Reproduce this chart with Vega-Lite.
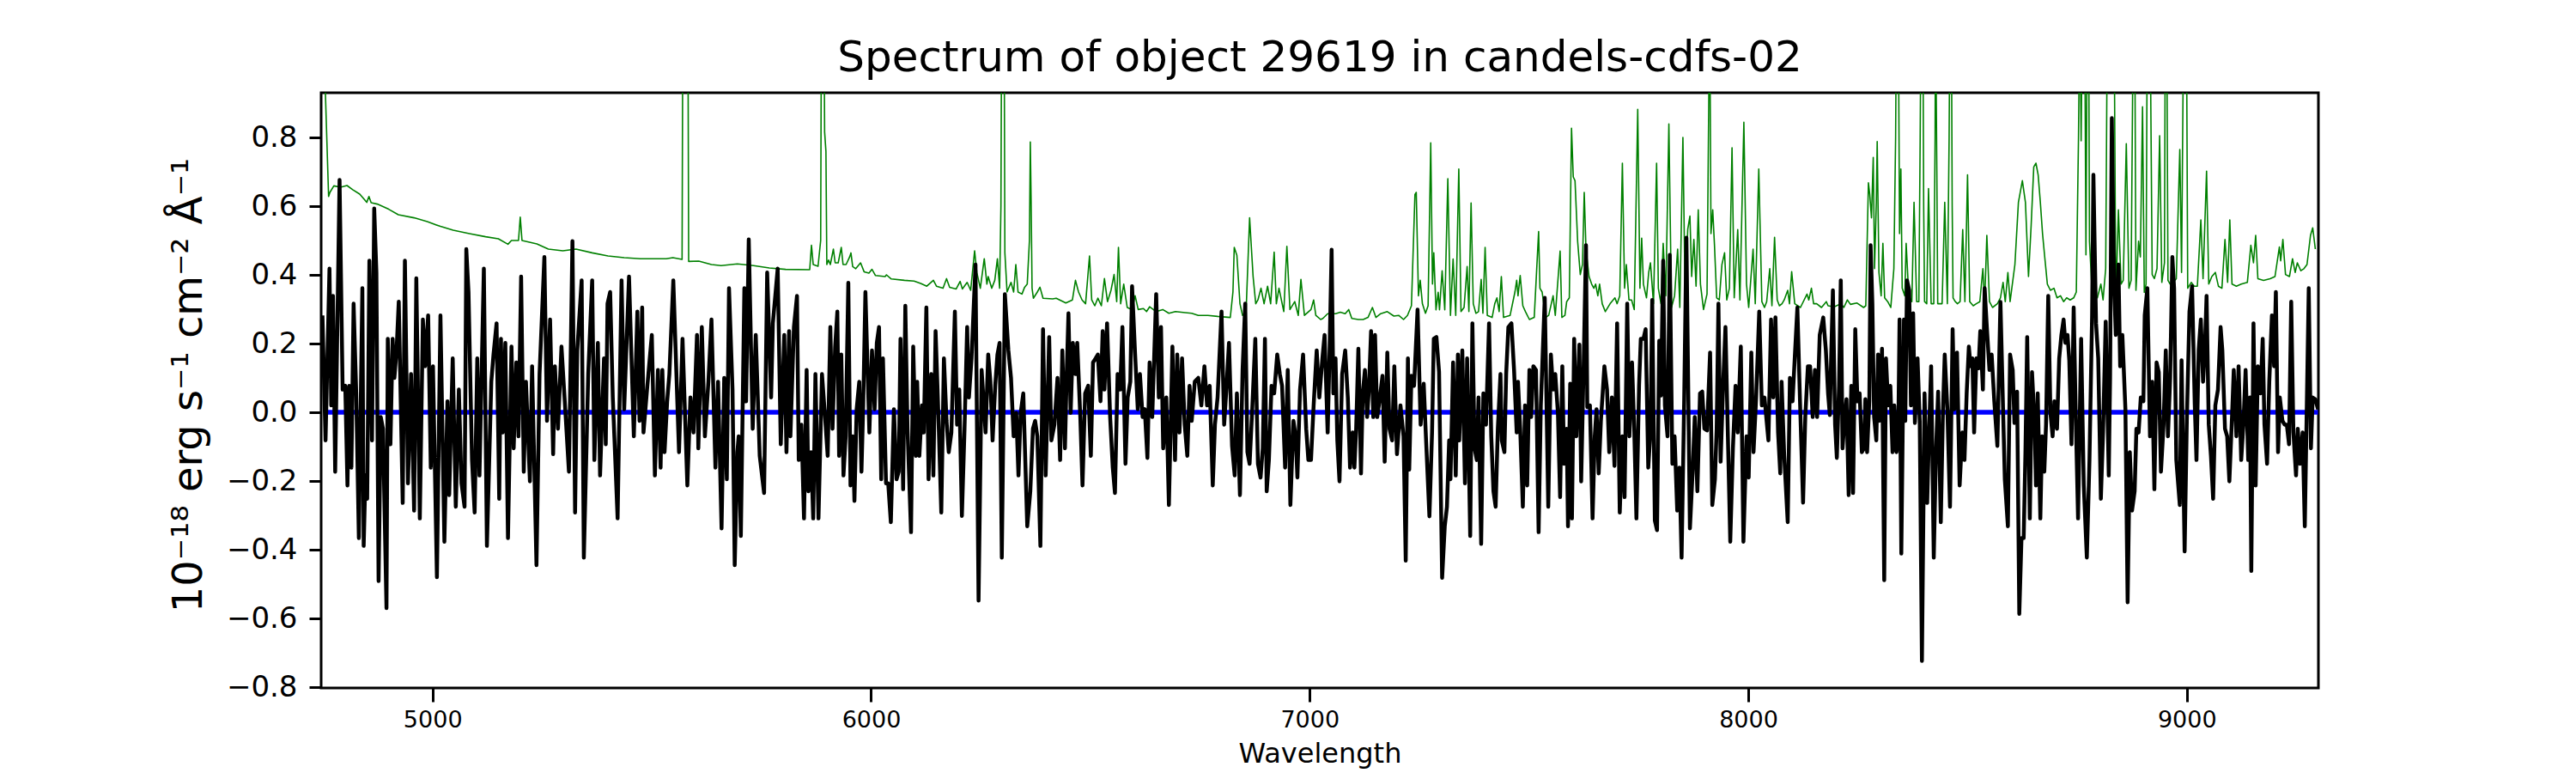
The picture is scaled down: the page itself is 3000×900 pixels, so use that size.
{
  "$schema": "https://vega.github.io/schema/vega-lite/v6.json",
  "description": "Spectrum of object 29619 in candels-cdfs-02",
  "width": 2326,
  "height": 693,
  "autosize": {"type": "none"},
  "padding": {"left": 374, "top": 108, "right": 300, "bottom": 99},
  "background": "white",
  "title": {
    "text": "Spectrum of object 29619 in candels-cdfs-02",
    "fontSize": 50,
    "fontWeight": "normal",
    "anchor": "middle",
    "offset": 15,
    "color": "black"
  },
  "datasets": {
    "flux": [
      {"w": 4749, "v": 0.282}, {"w": 4756, "v": -0.082}, {"w": 4765, "v": 0.418}, {"w": 4769, "v": 0.02}, {"w": 4773, "v": 0.339},
      {"w": 4778, "v": -0.173}, {"w": 4788, "v": 0.676}, {"w": 4795, "v": 0.066}, {"w": 4801, "v": 0.077}, {"w": 4806, "v": -0.213},
      {"w": 4810, "v": 0.077}, {"w": 4815, "v": -0.161}, {"w": 4820, "v": 0.316}, {"w": 4826, "v": 0.055}, {"w": 4832, "v": -0.366},
      {"w": 4840, "v": 0.361}, {"w": 4843, "v": -0.389}, {"w": 4847, "v": -0.184}, {"w": 4851, "v": -0.252}, {"w": 4856, "v": 0.441},
      {"w": 4862, "v": -0.082}, {"w": 4867, "v": 0.593}, {"w": 4872, "v": 0.407}, {"w": 4877, "v": -0.491}, {"w": 4882, "v": -0.014},
      {"w": 4887, "v": -0.048}, {"w": 4895, "v": -0.57}, {"w": 4898, "v": 0.214}, {"w": 4904, "v": -0.093}, {"w": 4909, "v": 0.214},
      {"w": 4913, "v": 0.1}, {"w": 4918, "v": 0.18}, {"w": 4923, "v": 0.322}, {"w": 4932, "v": -0.264}, {"w": 4937, "v": 0.441},
      {"w": 4944, "v": -0.207}, {"w": 4951, "v": 0.111}, {"w": 4958, "v": -0.286}, {"w": 4963, "v": 0.39}, {"w": 4971, "v": -0.309},
      {"w": 4978, "v": 0.27}, {"w": 4983, "v": 0.134}, {"w": 4990, "v": 0.282}, {"w": 4996, "v": -0.161}, {"w": 5001, "v": 0.134},
      {"w": 5010, "v": -0.48}, {"w": 5018, "v": 0.282}, {"w": 5027, "v": -0.377}, {"w": 5034, "v": 0.032}, {"w": 5038, "v": -0.241},
      {"w": 5046, "v": 0.157}, {"w": 5053, "v": -0.275}, {"w": 5060, "v": 0.066}, {"w": 5066, "v": -0.207}, {"w": 5073, "v": -0.275},
      {"w": 5077, "v": 0.475}, {"w": 5082, "v": 0.35}, {"w": 5090, "v": -0.139}, {"w": 5096, "v": -0.292}, {"w": 5102, "v": 0.157},
      {"w": 5107, "v": -0.184}, {"w": 5117, "v": 0.418}, {"w": 5124, "v": -0.389}, {"w": 5134, "v": 0.089}, {"w": 5139, "v": 0.168},
      {"w": 5146, "v": 0.259}, {"w": 5152, "v": -0.252}, {"w": 5156, "v": 0.214}, {"w": 5160, "v": -0.059}, {"w": 5166, "v": 0.202},
      {"w": 5172, "v": -0.366}, {"w": 5180, "v": 0.191}, {"w": 5185, "v": -0.105}, {"w": 5191, "v": 0.145}, {"w": 5196, "v": -0.07},
      {"w": 5202, "v": 0.395}, {"w": 5208, "v": -0.173}, {"w": 5213, "v": 0.089}, {"w": 5222, "v": -0.201}, {"w": 5227, "v": 0.134},
      {"w": 5237, "v": -0.445}, {"w": 5244, "v": 0.111}, {"w": 5255, "v": 0.452}, {"w": 5261, "v": -0.025}, {"w": 5268, "v": 0.27},
      {"w": 5275, "v": -0.122}, {"w": 5279, "v": 0.134}, {"w": 5286, "v": -0.048}, {"w": 5294, "v": 0.191}, {"w": 5301, "v": 0.043},
      {"w": 5311, "v": -0.173}, {"w": 5319, "v": 0.498}, {"w": 5325, "v": -0.292}, {"w": 5330, "v": 0.18}, {"w": 5340, "v": 0.384},
      {"w": 5345, "v": -0.423}, {"w": 5355, "v": 0.111}, {"w": 5364, "v": 0.384}, {"w": 5369, "v": -0.139}, {"w": 5377, "v": 0.202},
      {"w": 5382, "v": -0.184}, {"w": 5391, "v": 0.157}, {"w": 5395, "v": -0.093}, {"w": 5399, "v": 0.316}, {"w": 5405, "v": 0.35},
      {"w": 5411, "v": 0.043}, {"w": 5422, "v": -0.309}, {"w": 5431, "v": 0.384}, {"w": 5437, "v": 0.009}, {"w": 5448, "v": 0.395},
      {"w": 5459, "v": -0.07}, {"w": 5467, "v": 0.293}, {"w": 5472, "v": -0.025}, {"w": 5478, "v": 0.305}, {"w": 5481, "v": -0.059},
      {"w": 5490, "v": 0.08}, {"w": 5500, "v": 0.225}, {"w": 5507, "v": -0.184}, {"w": 5514, "v": 0.123}, {"w": 5520, "v": -0.161},
      {"w": 5524, "v": 0.123}, {"w": 5529, "v": -0.116}, {"w": 5535, "v": 0.032}, {"w": 5540, "v": 0.111}, {"w": 5549, "v": 0.384},
      {"w": 5562, "v": -0.116}, {"w": 5570, "v": 0.214}, {"w": 5581, "v": -0.213}, {"w": 5588, "v": 0.043}, {"w": 5595, "v": -0.059},
      {"w": 5603, "v": 0.225}, {"w": 5606, "v": -0.105}, {"w": 5614, "v": 0.248}, {"w": 5621, "v": -0.07}, {"w": 5629, "v": 0.089},
      {"w": 5636, "v": 0.27}, {"w": 5645, "v": -0.161}, {"w": 5651, "v": 0.089}, {"w": 5659, "v": -0.338}, {"w": 5665, "v": 0.1},
      {"w": 5671, "v": -0.195}, {"w": 5676, "v": 0.361}, {"w": 5684, "v": 0.066}, {"w": 5689, "v": -0.445}, {"w": 5695, "v": -0.116},
      {"w": 5698, "v": -0.07}, {"w": 5703, "v": -0.36}, {"w": 5711, "v": 0.361}, {"w": 5715, "v": 0.032}, {"w": 5721, "v": 0.503},
      {"w": 5730, "v": -0.048}, {"w": 5737, "v": 0.225}, {"w": 5746, "v": -0.127}, {"w": 5756, "v": -0.235}, {"w": 5763, "v": 0.407},
      {"w": 5772, "v": 0.043}, {"w": 5776, "v": 0.259}, {"w": 5787, "v": 0.418}, {"w": 5794, "v": -0.093}, {"w": 5802, "v": 0.225},
      {"w": 5807, "v": -0.116}, {"w": 5813, "v": 0.236}, {"w": 5816, "v": -0.07}, {"w": 5824, "v": 0.248}, {"w": 5831, "v": 0.339},
      {"w": 5835, "v": -0.139}, {"w": 5841, "v": -0.036}, {"w": 5847, "v": -0.309}, {"w": 5853, "v": 0.123}, {"w": 5857, "v": -0.23},
      {"w": 5863, "v": -0.116}, {"w": 5868, "v": -0.309}, {"w": 5873, "v": 0.111}, {"w": 5880, "v": -0.309}, {"w": 5888, "v": 0.111},
      {"w": 5895, "v": -0.014}, {"w": 5901, "v": -0.127}, {"w": 5907, "v": 0.248}, {"w": 5912, "v": -0.048}, {"w": 5918, "v": 0.191},
      {"w": 5923, "v": 0.293}, {"w": 5927, "v": -0.127}, {"w": 5932, "v": 0.168}, {"w": 5937, "v": -0.184}, {"w": 5942, "v": -0.07},
      {"w": 5948, "v": 0.377}, {"w": 5953, "v": -0.213}, {"w": 5958, "v": -0.07}, {"w": 5962, "v": -0.258}, {"w": 5967, "v": 0.009},
      {"w": 5973, "v": 0.089}, {"w": 5978, "v": -0.173}, {"w": 5982, "v": 0.02}, {"w": 5987, "v": 0.35}, {"w": 5993, "v": 0.077},
      {"w": 5996, "v": -0.059}, {"w": 6002, "v": 0.18}, {"w": 6008, "v": 0.009}, {"w": 6013, "v": 0.202}, {"w": 6018, "v": 0.248},
      {"w": 6023, "v": -0.195}, {"w": 6027, "v": 0.157}, {"w": 6034, "v": -0.207}, {"w": 6039, "v": -0.207}, {"w": 6045, "v": -0.32},
      {"w": 6052, "v": 0.009}, {"w": 6058, "v": -0.195}, {"w": 6063, "v": -0.173}, {"w": 6067, "v": 0.214}, {"w": 6073, "v": -0.224},
      {"w": 6078, "v": 0.31}, {"w": 6083, "v": -0.048}, {"w": 6091, "v": -0.349}, {"w": 6096, "v": 0.191}, {"w": 6102, "v": -0.127},
      {"w": 6105, "v": 0.089}, {"w": 6110, "v": -0.127}, {"w": 6116, "v": 0.02}, {"w": 6120, "v": -0.059}, {"w": 6126, "v": 0.305},
      {"w": 6131, "v": -0.195}, {"w": 6137, "v": 0.111}, {"w": 6142, "v": -0.184}, {"w": 6147, "v": 0.236}, {"w": 6153, "v": 0.009},
      {"w": 6160, "v": -0.292}, {"w": 6166, "v": 0.157}, {"w": 6172, "v": -0.025}, {"w": 6177, "v": -0.116}, {"w": 6183, "v": -0.059},
      {"w": 6191, "v": 0.293}, {"w": 6196, "v": -0.036}, {"w": 6201, "v": 0.066}, {"w": 6207, "v": -0.302}, {"w": 6213, "v": -0.048},
      {"w": 6219, "v": 0.248}, {"w": 6223, "v": 0.043}, {"w": 6229, "v": 0.157}, {"w": 6238, "v": 0.43}, {"w": 6245, "v": -0.548},
      {"w": 6252, "v": 0.123}, {"w": 6261, "v": -0.059}, {"w": 6267, "v": 0.168}, {"w": 6272, "v": 0.089}, {"w": 6277, "v": -0.082},
      {"w": 6283, "v": 0.077}, {"w": 6288, "v": 0.168}, {"w": 6293, "v": 0.202}, {"w": 6298, "v": -0.423}, {"w": 6305, "v": 0.344},
      {"w": 6313, "v": 0.18}, {"w": 6319, "v": 0.1}, {"w": 6325, "v": -0.07}, {"w": 6331, "v": -0.002}, {"w": 6336, "v": -0.184},
      {"w": 6341, "v": -0.002}, {"w": 6347, "v": 0.055}, {"w": 6356, "v": -0.332}, {"w": 6363, "v": -0.23}, {"w": 6369, "v": -0.048},
      {"w": 6374, "v": -0.025}, {"w": 6379, "v": -0.07}, {"w": 6386, "v": -0.389}, {"w": 6392, "v": 0.242}, {"w": 6398, "v": -0.184},
      {"w": 6406, "v": 0.219}, {"w": 6411, "v": -0.082}, {"w": 6418, "v": -0.036}, {"w": 6425, "v": 0.1}, {"w": 6431, "v": -0.139},
      {"w": 6436, "v": 0.18}, {"w": 6442, "v": -0.105}, {"w": 6446, "v": 0.111}, {"w": 6450, "v": 0.288}, {"w": 6455, "v": -0.002},
      {"w": 6460, "v": 0.202}, {"w": 6466, "v": 0.111}, {"w": 6470, "v": 0.202}, {"w": 6477, "v": -0.014}, {"w": 6482, "v": -0.213},
      {"w": 6488, "v": 0.055}, {"w": 6495, "v": 0.077}, {"w": 6501, "v": -0.127}, {"w": 6506, "v": 0.145}, {"w": 6512, "v": 0.157},
      {"w": 6517, "v": 0.168}, {"w": 6523, "v": 0.032}, {"w": 6528, "v": 0.236}, {"w": 6532, "v": 0.066}, {"w": 6538, "v": 0.259},
      {"w": 6545, "v": -0.014}, {"w": 6551, "v": -0.161}, {"w": 6556, "v": -0.235}, {"w": 6562, "v": 0.111}, {"w": 6568, "v": 0.066},
      {"w": 6573, "v": 0.248}, {"w": 6580, "v": -0.15}, {"w": 6585, "v": 0.043}, {"w": 6591, "v": 0.089}, {"w": 6595, "v": 0.367},
      {"w": 6602, "v": 0.168}, {"w": 6608, "v": 0.009}, {"w": 6613, "v": 0.111}, {"w": 6619, "v": -0.014}, {"w": 6624, "v": 0.009},
      {"w": 6630, "v": -0.133}, {"w": 6635, "v": 0.145}, {"w": 6641, "v": -0.014}, {"w": 6650, "v": 0.344}, {"w": 6656, "v": 0.043},
      {"w": 6661, "v": 0.248}, {"w": 6666, "v": -0.105}, {"w": 6673, "v": 0.043}, {"w": 6679, "v": -0.27}, {"w": 6687, "v": 0.191},
      {"w": 6693, "v": -0.139}, {"w": 6698, "v": 0.168}, {"w": 6703, "v": -0.059}, {"w": 6709, "v": 0.157}, {"w": 6715, "v": -0.036},
      {"w": 6721, "v": -0.127}, {"w": 6726, "v": 0.077}, {"w": 6731, "v": -0.025}, {"w": 6738, "v": 0.089}, {"w": 6746, "v": 0.1},
      {"w": 6753, "v": 0.02}, {"w": 6760, "v": 0.134}, {"w": 6766, "v": 0.02}, {"w": 6772, "v": 0.077}, {"w": 6779, "v": -0.213},
      {"w": 6784, "v": -0.036}, {"w": 6790, "v": 0.043}, {"w": 6799, "v": 0.293}, {"w": 6805, "v": -0.036}, {"w": 6810, "v": 0.066},
      {"w": 6816, "v": 0.202}, {"w": 6823, "v": -0.098}, {"w": 6829, "v": -0.184}, {"w": 6834, "v": 0.055}, {"w": 6841, "v": -0.241},
      {"w": 6847, "v": 0.123}, {"w": 6853, "v": 0.316}, {"w": 6858, "v": -0.116}, {"w": 6863, "v": -0.15}, {"w": 6869, "v": 0.009},
      {"w": 6876, "v": 0.214}, {"w": 6882, "v": -0.15}, {"w": 6888, "v": -0.19}, {"w": 6893, "v": -0.105}, {"w": 6898, "v": 0.214},
      {"w": 6902, "v": -0.23}, {"w": 6907, "v": -0.139}, {"w": 6913, "v": 0.077}, {"w": 6919, "v": 0.055}, {"w": 6926, "v": 0.168},
      {"w": 6932, "v": 0.111}, {"w": 6937, "v": 0.077}, {"w": 6944, "v": -0.161}, {"w": 6950, "v": 0.123}, {"w": 6956, "v": -0.27},
      {"w": 6963, "v": -0.025}, {"w": 6968, "v": -0.07}, {"w": 6972, "v": -0.19}, {"w": 6978, "v": 0.066}, {"w": 6985, "v": 0.168},
      {"w": 6992, "v": -0.048}, {"w": 6997, "v": -0.139}, {"w": 7003, "v": -0.139}, {"w": 7009, "v": 0.02}, {"w": 7016, "v": 0.18},
      {"w": 7022, "v": 0.043}, {"w": 7029, "v": 0.157}, {"w": 7034, "v": 0.225},
      {"w": 7041, "v": -0.059}, {"w": 7045, "v": 0.157}, {"w": 7050, "v": 0.473}, {"w": 7054, "v": 0.055}, {"w": 7059, "v": 0.157},
      {"w": 7063, "v": -0.082}, {"w": 7068, "v": -0.201}, {"w": 7074, "v": 0.111}, {"w": 7081, "v": 0.18}, {"w": 7087, "v": 0.043},
      {"w": 7092, "v": -0.161}, {"w": 7098, "v": -0.059}, {"w": 7102, "v": -0.161}, {"w": 7106, "v": -0.048}, {"w": 7111, "v": 0.185},
      {"w": 7117, "v": -0.178}, {"w": 7121, "v": 0.055}, {"w": 7126, "v": 0.123}, {"w": 7131, "v": -0.014}, {"w": 7135, "v": 0.066},
      {"w": 7140, "v": 0.236}, {"w": 7145, "v": -0.014}, {"w": 7149, "v": 0.225}, {"w": 7154, "v": -0.014}, {"w": 7159, "v": 0.032},
      {"w": 7166, "v": 0.106}, {"w": 7171, "v": -0.144}, {"w": 7177, "v": 0.174}, {"w": 7182, "v": -0.048}, {"w": 7188, "v": -0.082},
      {"w": 7193, "v": 0.134}, {"w": 7199, "v": -0.122}, {"w": 7207, "v": 0.02}, {"w": 7214, "v": -0.07}, {"w": 7219, "v": -0.432},
      {"w": 7224, "v": 0.157}, {"w": 7227, "v": -0.167}, {"w": 7232, "v": 0.106}, {"w": 7238, "v": 0.077}, {"w": 7246, "v": 0.299},
      {"w": 7253, "v": -0.036}, {"w": 7260, "v": 0.083}, {"w": 7265, "v": -0.07}, {"w": 7273, "v": -0.303}, {"w": 7279, "v": -0.059},
      {"w": 7283, "v": 0.214}, {"w": 7289, "v": 0.219}, {"w": 7295, "v": 0.117}, {"w": 7302, "v": -0.482}, {"w": 7308, "v": -0.332},
      {"w": 7313, "v": -0.275}, {"w": 7318, "v": -0.082}, {"w": 7321, "v": -0.195}, {"w": 7327, "v": 0.145}, {"w": 7333, "v": -0.184},
      {"w": 7338, "v": 0.168}, {"w": 7341, "v": -0.082}, {"w": 7348, "v": 0.18}, {"w": 7354, "v": -0.207}, {"w": 7359, "v": 0.157},
      {"w": 7366, "v": -0.36}, {"w": 7371, "v": 0.259}, {"w": 7376, "v": -0.105}, {"w": 7381, "v": -0.139}, {"w": 7385, "v": 0.043},
      {"w": 7391, "v": -0.383}, {"w": 7396, "v": 0.055}, {"w": 7402, "v": -0.036}, {"w": 7409, "v": 0.259}, {"w": 7414, "v": -0.07},
      {"w": 7419, "v": -0.23}, {"w": 7424, "v": -0.275}, {"w": 7429, "v": -0.048}, {"w": 7435, "v": 0.111}, {"w": 7438, "v": -0.082},
      {"w": 7444, "v": -0.116}, {"w": 7448, "v": 0.111}, {"w": 7453, "v": 0.248}, {"w": 7460, "v": 0.259}, {"w": 7466, "v": 0.123},
      {"w": 7472, "v": -0.059}, {"w": 7475, "v": 0.089}, {"w": 7480, "v": -0.048}, {"w": 7486, "v": -0.275}, {"w": 7491, "v": 0.02},
      {"w": 7496, "v": -0.213}, {"w": 7501, "v": 0.123}, {"w": 7505, "v": -0.014}, {"w": 7510, "v": 0.134}, {"w": 7516, "v": 0.123},
      {"w": 7522, "v": -0.349}, {"w": 7527, "v": 0.02}, {"w": 7536, "v": 0.333}, {"w": 7544, "v": -0.275}, {"w": 7550, "v": 0.168},
      {"w": 7555, "v": 0.066}, {"w": 7560, "v": 0.111}, {"w": 7566, "v": -0.002}, {"w": 7571, "v": -0.247}, {"w": 7576, "v": 0.134},
      {"w": 7580, "v": -0.15}, {"w": 7586, "v": -0.048}, {"w": 7589, "v": -0.332}, {"w": 7594, "v": 0.083}, {"w": 7598, "v": -0.309},
      {"w": 7603, "v": 0.214}, {"w": 7608, "v": -0.07}, {"w": 7615, "v": 0.197}, {"w": 7619, "v": -0.201}, {"w": 7625, "v": 0.157},
      {"w": 7630, "v": 0.486}, {"w": 7633, "v": 0.015}, {"w": 7639, "v": 0.02}, {"w": 7645, "v": -0.309}, {"w": 7650, "v": -0.07},
      {"w": 7654, "v": 0.009}, {"w": 7659, "v": -0.178}, {"w": 7664, "v": -0.025}, {"w": 7672, "v": 0.134}, {"w": 7678, "v": 0.066},
      {"w": 7683, "v": -0.116}, {"w": 7689, "v": 0.043}, {"w": 7695, "v": -0.156}, {"w": 7701, "v": 0.259}, {"w": 7707, "v": -0.292},
      {"w": 7713, "v": -0.07}, {"w": 7718, "v": -0.247}, {"w": 7724, "v": 0.316}, {"w": 7729, "v": -0.07}, {"w": 7735, "v": 0.145},
      {"w": 7740, "v": -0.048}, {"w": 7745, "v": -0.309}, {"w": 7751, "v": 0.077}, {"w": 7755, "v": 0.214}, {"w": 7761, "v": 0.214},
      {"w": 7766, "v": 0.242}, {"w": 7772, "v": -0.161}, {"w": 7777, "v": -0.059}, {"w": 7781, "v": 0.327}, {"w": 7787, "v": -0.315},
      {"w": 7792, "v": -0.343}, {"w": 7797, "v": 0.208}, {"w": 7801, "v": 0.049}, {"w": 7806, "v": 0.441}, {"w": 7810, "v": 0.02},
      {"w": 7816, "v": -0.07}, {"w": 7821, "v": 0.458}, {"w": 7827, "v": -0.15}, {"w": 7832, "v": -0.07}, {"w": 7838, "v": -0.286},
      {"w": 7843, "v": -0.161}, {"w": 7848, "v": -0.423}, {"w": 7854, "v": 0.043}, {"w": 7859, "v": 0.508}, {"w": 7867, "v": -0.338},
      {"w": 7873, "v": -0.178}, {"w": 7878, "v": -0.014}, {"w": 7884, "v": -0.23}, {"w": 7890, "v": 0.055}, {"w": 7895, "v": 0.06},
      {"w": 7900, "v": -0.048}, {"w": 7906, "v": -0.053}, {"w": 7913, "v": 0.174}, {"w": 7918, "v": -0.27}, {"w": 7924, "v": -0.195},
      {"w": 7928, "v": -0.048}, {"w": 7932, "v": 0.316}, {"w": 7937, "v": -0.144}, {"w": 7943, "v": 0.089}, {"w": 7948, "v": 0.248},
      {"w": 7954, "v": -0.093}, {"w": 7959, "v": -0.377}, {"w": 7965, "v": -0.105}, {"w": 7971, "v": 0.077}, {"w": 7976, "v": -0.059},
      {"w": 7983, "v": 0.191}, {"w": 7989, "v": -0.377}, {"w": 7996, "v": -0.07}, {"w": 8001, "v": -0.19}, {"w": 8007, "v": 0.174},
      {"w": 8012, "v": -0.116}, {"w": 8018, "v": 0.043}, {"w": 8025, "v": 0.293}, {"w": 8031, "v": 0.02}, {"w": 8037, "v": 0.043},
      {"w": 8046, "v": -0.082}, {"w": 8052, "v": 0.27}, {"w": 8057, "v": 0.043}, {"w": 8062, "v": 0.276}, {"w": 8068, "v": -0.059},
      {"w": 8073, "v": -0.178}, {"w": 8076, "v": 0.089}, {"w": 8082, "v": -0.127}, {"w": 8090, "v": -0.32}, {"w": 8095, "v": 0.1},
      {"w": 8101, "v": 0.032}, {"w": 8106, "v": 0.157}, {"w": 8112, "v": 0.305}, {"w": 8118, "v": 0.032}, {"w": 8125, "v": -0.263},
      {"w": 8130, "v": -0.014}, {"w": 8136, "v": 0.134}, {"w": 8141, "v": 0.134}, {"w": 8147, "v": -0.014}, {"w": 8152, "v": 0.123},
      {"w": 8157, "v": -0.014}, {"w": 8163, "v": 0.225}, {"w": 8171, "v": 0.276}, {"w": 8177, "v": 0.18}, {"w": 8182, "v": 0.055},
      {"w": 8186, "v": -0.008}, {"w": 8189, "v": 0.157}, {"w": 8193, "v": 0.355}, {"w": 8198, "v": -0.036}, {"w": 8202, "v": -0.133},
      {"w": 8207, "v": 0.077}, {"w": 8211, "v": 0.384}, {"w": 8215, "v": -0.105}, {"w": 8220, "v": -0.014}, {"w": 8224, "v": 0.038},
      {"w": 8229, "v": -0.241}, {"w": 8235, "v": 0.077}, {"w": 8239, "v": -0.235}, {"w": 8244, "v": 0.242}, {"w": 8249, "v": 0.032},
      {"w": 8254, "v": 0.055}, {"w": 8259, "v": -0.116}, {"w": 8264, "v": -0.105}, {"w": 8267, "v": 0.038}, {"w": 8271, "v": -0.116},
      {"w": 8276, "v": 0.032}, {"w": 8279, "v": 0.486}, {"w": 8283, "v": 0.316}, {"w": 8287, "v": -0.014}, {"w": 8292, "v": -0.082},
      {"w": 8296, "v": 0.168}, {"w": 8299, "v": -0.025}, {"w": 8305, "v": 0.185}, {"w": 8310, "v": -0.489}, {"w": 8314, "v": 0.157},
      {"w": 8319, "v": 0.02}, {"w": 8324, "v": 0.077}, {"w": 8329, "v": -0.116}, {"w": 8333, "v": 0.02}, {"w": 8338, "v": -0.116},
      {"w": 8342, "v": -0.065}, {"w": 8345, "v": 0.27}, {"w": 8349, "v": -0.411}, {"w": 8355, "v": 0.27}, {"w": 8358, "v": -0.025},
      {"w": 8362, "v": 0.384}, {"w": 8367, "v": 0.355}, {"w": 8371, "v": 0.02}, {"w": 8376, "v": 0.288}, {"w": 8380, "v": -0.031},
      {"w": 8386, "v": 0.157}, {"w": 8391, "v": -0.025}, {"w": 8396, "v": -0.724}, {"w": 8402, "v": 0.055}, {"w": 8408, "v": -0.264},
      {"w": 8412, "v": -0.07}, {"w": 8417, "v": 0.134}, {"w": 8423, "v": -0.423}, {"w": 8428, "v": -0.116}, {"w": 8433, "v": 0.06},
      {"w": 8439, "v": -0.32}, {"w": 8444, "v": 0.009}, {"w": 8448, "v": 0.168}, {"w": 8454, "v": 0.009}, {"w": 8460, "v": -0.275},
      {"w": 8466, "v": 0.242}, {"w": 8470, "v": 0.009}, {"w": 8476, "v": 0.174}, {"w": 8482, "v": -0.213}, {"w": 8488, "v": -0.059},
      {"w": 8493, "v": -0.139}, {"w": 8498, "v": 0.055}, {"w": 8503, "v": 0.191}, {"w": 8507, "v": 0.134}, {"w": 8511, "v": 0.157},
      {"w": 8515, "v": -0.059}, {"w": 8520, "v": 0.157}, {"w": 8525, "v": 0.128}, {"w": 8529, "v": 0.236}, {"w": 8535, "v": 0.066},
      {"w": 8539, "v": 0.361}, {"w": 8544, "v": 0.248}, {"w": 8550, "v": 0.123}, {"w": 8555, "v": 0.168}, {"w": 8561, "v": 0.032},
      {"w": 8568, "v": -0.098}, {"w": 8575, "v": 0.321}, {"w": 8581, "v": 0.009}, {"w": 8585, "v": -0.195}, {"w": 8592, "v": -0.332},
      {"w": 8597, "v": 0.168}, {"w": 8603, "v": 0.123}, {"w": 8607, "v": -0.031}, {"w": 8613, "v": 0.06}, {"w": 8618, "v": -0.587},
      {"w": 8623, "v": -0.366}, {"w": 8628, "v": -0.366}, {"w": 8632, "v": -0.116}, {"w": 8636, "v": 0.219}, {"w": 8642, "v": -0.309},
      {"w": 8647, "v": 0.117}, {"w": 8653, "v": -0.036}, {"w": 8656, "v": -0.213}, {"w": 8660, "v": 0.055}, {"w": 8666, "v": -0.309},
      {"w": 8670, "v": -0.07}, {"w": 8675, "v": -0.173}, {"w": 8679, "v": -0.036}, {"w": 8684, "v": 0.339}, {"w": 8689, "v": -0.002},
      {"w": 8694, "v": -0.07}, {"w": 8698, "v": 0.032}, {"w": 8704, "v": -0.048}, {"w": 8709, "v": 0.157}, {"w": 8714, "v": 0.225},
      {"w": 8719, "v": 0.27}, {"w": 8723, "v": 0.202}, {"w": 8728, "v": 0.225}, {"w": 8732, "v": 0.151}, {"w": 8737, "v": -0.093},
      {"w": 8742, "v": 0.305}, {"w": 8747, "v": -0.025}, {"w": 8752, "v": -0.309}, {"w": 8759, "v": 0.214}, {"w": 8765, "v": -0.213},
      {"w": 8772, "v": -0.423}, {"w": 8778, "v": -0.139}, {"w": 8784, "v": 0.282}, {"w": 8787, "v": 0.691}, {"w": 8793, "v": 0.259},
      {"w": 8798, "v": 0.157}, {"w": 8804, "v": -0.252}, {"w": 8809, "v": -0.059}, {"w": 8815, "v": 0.264}, {"w": 8822, "v": -0.184},
      {"w": 8825, "v": 0.1}, {"w": 8829, "v": 0.856}, {"w": 8834, "v": 0.384}, {"w": 8838, "v": 0.225}, {"w": 8844, "v": 0.43},
      {"w": 8848, "v": 0.134}, {"w": 8853, "v": 0.225}, {"w": 8860, "v": 0.009}, {"w": 8865, "v": -0.553}, {"w": 8870, "v": -0.116},
      {"w": 8875, "v": -0.286}, {"w": 8881, "v": -0.23}, {"w": 8885, "v": -0.048}, {"w": 8890, "v": -0.059}, {"w": 8895, "v": 0.043},
      {"w": 8901, "v": 0.032}, {"w": 8904, "v": 0.282}, {"w": 8910, "v": 0.361}, {"w": 8916, "v": -0.07}, {"w": 8921, "v": 0.089},
      {"w": 8926, "v": -0.224}, {"w": 8931, "v": 0.145}, {"w": 8936, "v": 0.117}, {"w": 8941, "v": -0.173}, {"w": 8947, "v": -0.036},
      {"w": 8952, "v": 0.18}, {"w": 8957, "v": -0.07}, {"w": 8962, "v": 0.1}, {"w": 8967, "v": 0.452}, {"w": 8971, "v": 0.361},
      {"w": 8976, "v": -0.139}, {"w": 8984, "v": -0.27}, {"w": 8988, "v": 0.151}, {"w": 8995, "v": -0.405}, {"w": 9000, "v": -0.025},
      {"w": 9006, "v": 0.293}, {"w": 9012, "v": 0.367}, {"w": 9018, "v": 0.026}, {"w": 9022, "v": -0.139}, {"w": 9027, "v": 0.18},
      {"w": 9032, "v": 0.27}, {"w": 9037, "v": 0.089}, {"w": 9041, "v": 0.18}, {"w": 9045, "v": 0.339}, {"w": 9050, "v": -0.036},
      {"w": 9055, "v": -0.127}, {"w": 9060, "v": -0.252}, {"w": 9065, "v": 0.02}, {"w": 9071, "v": 0.066}, {"w": 9077, "v": 0.248},
      {"w": 9081, "v": 0.18}, {"w": 9087, "v": -0.048}, {"w": 9092, "v": -0.07}, {"w": 9097, "v": -0.201}, {"w": 9103, "v": -0.014},
      {"w": 9107, "v": 0.123}, {"w": 9113, "v": -0.07}, {"w": 9118, "v": 0.134}, {"w": 9124, "v": -0.139}, {"w": 9129, "v": -0.036},
      {"w": 9134, "v": 0.123}, {"w": 9140, "v": -0.139}, {"w": 9144, "v": 0.043}, {"w": 9147, "v": -0.462}, {"w": 9152, "v": 0.259},
      {"w": 9157, "v": -0.213}, {"w": 9162, "v": 0.134}, {"w": 9168, "v": 0.055}, {"w": 9173, "v": 0.214}, {"w": 9177, "v": -0.036},
      {"w": 9183, "v": -0.15}, {"w": 9188, "v": 0.089}, {"w": 9194, "v": 0.282}, {"w": 9199, "v": 0.134}, {"w": 9203, "v": 0.35},
      {"w": 9208, "v": -0.116}, {"w": 9212, "v": 0.043}, {"w": 9218, "v": -0.025}, {"w": 9223, "v": -0.036}, {"w": 9228, "v": -0.036},
      {"w": 9233, "v": -0.093}, {"w": 9238, "v": 0.322}, {"w": 9243, "v": -0.059}, {"w": 9249, "v": -0.184}, {"w": 9253, "v": -0.048},
      {"w": 9258, "v": -0.15}, {"w": 9264, "v": -0.059}, {"w": 9269, "v": -0.332}, {"w": 9273, "v": -0.025}, {"w": 9278, "v": 0.361},
      {"w": 9283, "v": -0.105}, {"w": 9287, "v": 0.043}, {"w": 9293, "v": 0.038}, {"w": 9299, "v": 0.009}
    ],
    "sky": [
      {"w": 4749, "v": 1.3}, {"w": 4754, "v": 1.0}, {"w": 4763, "v": 0.628}, {"w": 4766, "v": 0.64}, {"w": 4775, "v": 0.659},
      {"w": 4790, "v": 0.655}, {"w": 4805, "v": 0.66}, {"w": 4818, "v": 0.648}, {"w": 4834, "v": 0.635}, {"w": 4850, "v": 0.611},
      {"w": 4855, "v": 0.628}, {"w": 4860, "v": 0.61}, {"w": 4874, "v": 0.606}, {"w": 4900, "v": 0.591}, {"w": 4922, "v": 0.575},
      {"w": 4958, "v": 0.566}, {"w": 4988, "v": 0.555}, {"w": 5018, "v": 0.541}, {"w": 5047, "v": 0.53}, {"w": 5084, "v": 0.52},
      {"w": 5121, "v": 0.511}, {"w": 5150, "v": 0.505}, {"w": 5172, "v": 0.489}, {"w": 5180, "v": 0.5}, {"w": 5196, "v": 0.5},
      {"w": 5200, "v": 0.568}, {"w": 5204, "v": 0.5}, {"w": 5238, "v": 0.49}, {"w": 5264, "v": 0.475}, {"w": 5297, "v": 0.47},
      {"w": 5327, "v": 0.475}, {"w": 5364, "v": 0.464}, {"w": 5400, "v": 0.455}, {"w": 5437, "v": 0.45}, {"w": 5474, "v": 0.447},
      {"w": 5533, "v": 0.447}, {"w": 5548, "v": 0.45}, {"w": 5569, "v": 0.445}, {"w": 5571, "v": 1.3}, {"w": 5582, "v": 1.3},
      {"w": 5584, "v": 0.439}, {"w": 5607, "v": 0.44}, {"w": 5636, "v": 0.43}, {"w": 5658, "v": 0.427}, {"w": 5695, "v": 0.432},
      {"w": 5732, "v": 0.427}, {"w": 5768, "v": 0.42}, {"w": 5805, "v": 0.416}, {"w": 5860, "v": 0.415}, {"w": 5864, "v": 0.486},
      {"w": 5868, "v": 0.43}, {"w": 5879, "v": 0.425}, {"w": 5885, "v": 0.5}, {"w": 5887, "v": 1.3}, {"w": 5892, "v": 1.3},
      {"w": 5894, "v": 0.816}, {"w": 5897, "v": 0.759}, {"w": 5899, "v": 0.43}, {"w": 5903, "v": 0.443}, {"w": 5907, "v": 0.43},
      {"w": 5914, "v": 0.475}, {"w": 5918, "v": 0.435}, {"w": 5925, "v": 0.435}, {"w": 5932, "v": 0.48}, {"w": 5936, "v": 0.43},
      {"w": 5943, "v": 0.43}, {"w": 5951, "v": 0.452}, {"w": 5954, "v": 0.464}, {"w": 5958, "v": 0.424}, {"w": 5965, "v": 0.418},
      {"w": 5976, "v": 0.435}, {"w": 5984, "v": 0.409}, {"w": 5995, "v": 0.405}, {"w": 6002, "v": 0.416}, {"w": 6010, "v": 0.398},
      {"w": 6032, "v": 0.395}, {"w": 6035, "v": 0.4}, {"w": 6046, "v": 0.388}, {"w": 6076, "v": 0.384}, {"w": 6098, "v": 0.382},
      {"w": 6113, "v": 0.375}, {"w": 6127, "v": 0.367}, {"w": 6142, "v": 0.384}, {"w": 6149, "v": 0.367}, {"w": 6164, "v": 0.361},
      {"w": 6172, "v": 0.389}, {"w": 6179, "v": 0.364}, {"w": 6194, "v": 0.359}, {"w": 6203, "v": 0.381}, {"w": 6208, "v": 0.359},
      {"w": 6219, "v": 0.378}, {"w": 6227, "v": 0.355}, {"w": 6236, "v": 0.47}, {"w": 6241, "v": 0.407}, {"w": 6249, "v": 0.361},
      {"w": 6258, "v": 0.447}, {"w": 6264, "v": 0.373}, {"w": 6267, "v": 0.395}, {"w": 6275, "v": 0.361}, {"w": 6282, "v": 0.384},
      {"w": 6288, "v": 0.447}, {"w": 6293, "v": 0.361}, {"w": 6296, "v": 0.6}, {"w": 6298, "v": 1.3}, {"w": 6303, "v": 1.3},
      {"w": 6305, "v": 0.464}, {"w": 6310, "v": 0.35}, {"w": 6319, "v": 0.378}, {"w": 6325, "v": 0.35}, {"w": 6330, "v": 0.43},
      {"w": 6335, "v": 0.35}, {"w": 6344, "v": 0.344}, {"w": 6350, "v": 0.364}, {"w": 6356, "v": 0.373}, {"w": 6361, "v": 0.5},
      {"w": 6363, "v": 0.787}, {"w": 6365, "v": 0.6}, {"w": 6367, "v": 0.361}, {"w": 6370, "v": 0.332}, {"w": 6379, "v": 0.35},
      {"w": 6385, "v": 0.364}, {"w": 6392, "v": 0.332}, {"w": 6414, "v": 0.33}, {"w": 6422, "v": 0.332}, {"w": 6444, "v": 0.318},
      {"w": 6459, "v": 0.327}, {"w": 6466, "v": 0.384}, {"w": 6473, "v": 0.35}, {"w": 6481, "v": 0.327}, {"w": 6489, "v": 0.316},
      {"w": 6498, "v": 0.455}, {"w": 6503, "v": 0.327}, {"w": 6510, "v": 0.31}, {"w": 6517, "v": 0.332}, {"w": 6525, "v": 0.31},
      {"w": 6532, "v": 0.389}, {"w": 6539, "v": 0.322}, {"w": 6547, "v": 0.355}, {"w": 6554, "v": 0.401}, {"w": 6560, "v": 0.322},
      {"w": 6564, "v": 0.48}, {"w": 6569, "v": 0.316}, {"w": 6576, "v": 0.373}, {"w": 6584, "v": 0.305}, {"w": 6595, "v": 0.299},
      {"w": 6602, "v": 0.339}, {"w": 6609, "v": 0.299}, {"w": 6621, "v": 0.302}, {"w": 6628, "v": 0.293}, {"w": 6635, "v": 0.307},
      {"w": 6650, "v": 0.293}, {"w": 6665, "v": 0.299}, {"w": 6679, "v": 0.288}, {"w": 6694, "v": 0.293}, {"w": 6716, "v": 0.29},
      {"w": 6731, "v": 0.288}, {"w": 6746, "v": 0.282}, {"w": 6768, "v": 0.282}, {"w": 6790, "v": 0.279}, {"w": 6819, "v": 0.276},
      {"w": 6825, "v": 0.35}, {"w": 6828, "v": 0.48}, {"w": 6834, "v": 0.457}, {"w": 6841, "v": 0.316}, {"w": 6847, "v": 0.282},
      {"w": 6855, "v": 0.293}, {"w": 6863, "v": 0.566}, {"w": 6871, "v": 0.395}, {"w": 6877, "v": 0.316}, {"w": 6882, "v": 0.327},
      {"w": 6889, "v": 0.361}, {"w": 6896, "v": 0.316}, {"w": 6904, "v": 0.367}, {"w": 6911, "v": 0.316}, {"w": 6919, "v": 0.466},
      {"w": 6924, "v": 0.316}, {"w": 6930, "v": 0.361}, {"w": 6941, "v": 0.293}, {"w": 6948, "v": 0.483}, {"w": 6955, "v": 0.299},
      {"w": 6966, "v": 0.322}, {"w": 6974, "v": 0.282}, {"w": 6980, "v": 0.387}, {"w": 6988, "v": 0.282}, {"w": 7003, "v": 0.299},
      {"w": 7009, "v": 0.327}, {"w": 7014, "v": 0.282}, {"w": 7025, "v": 0.27}, {"w": 7030, "v": 0.273}, {"w": 7041, "v": 0.287},
      {"w": 7059, "v": 0.287}, {"w": 7070, "v": 0.291}, {"w": 7081, "v": 0.287}, {"w": 7089, "v": 0.299}, {"w": 7096, "v": 0.273},
      {"w": 7111, "v": 0.27}, {"w": 7122, "v": 0.27}, {"w": 7133, "v": 0.276}, {"w": 7143, "v": 0.305}, {"w": 7151, "v": 0.276},
      {"w": 7162, "v": 0.287}, {"w": 7177, "v": 0.293}, {"w": 7192, "v": 0.28}, {"w": 7203, "v": 0.282}, {"w": 7214, "v": 0.27},
      {"w": 7223, "v": 0.282}, {"w": 7232, "v": 0.31}, {"w": 7240, "v": 0.634}, {"w": 7243, "v": 0.64}, {"w": 7248, "v": 0.339},
      {"w": 7252, "v": 0.384}, {"w": 7257, "v": 0.316}, {"w": 7264, "v": 0.288}, {"w": 7270, "v": 0.31}, {"w": 7276, "v": 0.784},
      {"w": 7280, "v": 0.373}, {"w": 7283, "v": 0.464}, {"w": 7288, "v": 0.298}, {"w": 7293, "v": 0.349}, {"w": 7296, "v": 0.298},
      {"w": 7302, "v": 0.412}, {"w": 7308, "v": 0.298}, {"w": 7315, "v": 0.68}, {"w": 7321, "v": 0.282}, {"w": 7327, "v": 0.446},
      {"w": 7333, "v": 0.282}, {"w": 7340, "v": 0.708}, {"w": 7345, "v": 0.293}, {"w": 7352, "v": 0.305}, {"w": 7359, "v": 0.424},
      {"w": 7363, "v": 0.293}, {"w": 7368, "v": 0.609}, {"w": 7373, "v": 0.316}, {"w": 7379, "v": 0.288}, {"w": 7385, "v": 0.293},
      {"w": 7391, "v": 0.387}, {"w": 7395, "v": 0.288}, {"w": 7400, "v": 0.48}, {"w": 7405, "v": 0.282}, {"w": 7416, "v": 0.276},
      {"w": 7422, "v": 0.316}, {"w": 7427, "v": 0.333}, {"w": 7432, "v": 0.293}, {"w": 7437, "v": 0.395}, {"w": 7442, "v": 0.276},
      {"w": 7457, "v": 0.282}, {"w": 7468, "v": 0.35}, {"w": 7472, "v": 0.384}, {"w": 7475, "v": 0.339}, {"w": 7480, "v": 0.398},
      {"w": 7486, "v": 0.31}, {"w": 7492, "v": 0.293}, {"w": 7501, "v": 0.27}, {"w": 7512, "v": 0.276}, {"w": 7522, "v": 0.526},
      {"w": 7525, "v": 0.361}, {"w": 7530, "v": 0.35}, {"w": 7538, "v": 0.276}, {"w": 7545, "v": 0.282}, {"w": 7555, "v": 0.339},
      {"w": 7560, "v": 0.282}, {"w": 7571, "v": 0.469}, {"w": 7575, "v": 0.276}, {"w": 7582, "v": 0.282}, {"w": 7586, "v": 0.322},
      {"w": 7592, "v": 0.333}, {"w": 7597, "v": 0.827}, {"w": 7601, "v": 0.685}, {"w": 7605, "v": 0.674}, {"w": 7611, "v": 0.497},
      {"w": 7617, "v": 0.401}, {"w": 7622, "v": 0.43}, {"w": 7626, "v": 0.64}, {"w": 7630, "v": 0.475}, {"w": 7637, "v": 0.395},
      {"w": 7643, "v": 0.373}, {"w": 7648, "v": 0.361}, {"w": 7652, "v": 0.373}, {"w": 7657, "v": 0.339}, {"w": 7661, "v": 0.373},
      {"w": 7667, "v": 0.316}, {"w": 7674, "v": 0.293}, {"w": 7685, "v": 0.316}, {"w": 7696, "v": 0.333}, {"w": 7701, "v": 0.316},
      {"w": 7707, "v": 0.339}, {"w": 7713, "v": 0.725}, {"w": 7718, "v": 0.361}, {"w": 7722, "v": 0.43}, {"w": 7728, "v": 0.327},
      {"w": 7734, "v": 0.327}, {"w": 7740, "v": 0.299}, {"w": 7748, "v": 0.882}, {"w": 7753, "v": 0.361}, {"w": 7757, "v": 0.507},
      {"w": 7761, "v": 0.373}, {"w": 7768, "v": 0.333}, {"w": 7773, "v": 0.407}, {"w": 7777, "v": 0.435}, {"w": 7784, "v": 0.316},
      {"w": 7791, "v": 0.725}, {"w": 7795, "v": 0.361}, {"w": 7801, "v": 0.316}, {"w": 7806, "v": 0.492}, {"w": 7812, "v": 0.339},
      {"w": 7819, "v": 0.839}, {"w": 7825, "v": 0.305}, {"w": 7832, "v": 0.339}, {"w": 7839, "v": 0.475}, {"w": 7844, "v": 0.305},
      {"w": 7851, "v": 0.8}, {"w": 7856, "v": 0.339}, {"w": 7862, "v": 0.532}, {"w": 7867, "v": 0.571}, {"w": 7871, "v": 0.395},
      {"w": 7876, "v": 0.503}, {"w": 7881, "v": 0.367}, {"w": 7886, "v": 0.589}, {"w": 7891, "v": 0.373}, {"w": 7898, "v": 0.299},
      {"w": 7906, "v": 0.344}, {"w": 7912, "v": 1.2}, {"w": 7915, "v": 0.52}, {"w": 7919, "v": 0.589}, {"w": 7923, "v": 0.486},
      {"w": 7928, "v": 0.333}, {"w": 7934, "v": 0.327}, {"w": 7940, "v": 0.43}, {"w": 7946, "v": 0.464}, {"w": 7951, "v": 0.327},
      {"w": 7957, "v": 0.361}, {"w": 7963, "v": 0.77}, {"w": 7968, "v": 0.333}, {"w": 7976, "v": 0.532}, {"w": 7981, "v": 0.327},
      {"w": 7990, "v": 0.844}, {"w": 7996, "v": 0.373}, {"w": 8001, "v": 0.305}, {"w": 8011, "v": 0.475}, {"w": 8016, "v": 0.316},
      {"w": 8024, "v": 0.708}, {"w": 8031, "v": 0.322}, {"w": 8037, "v": 0.305}, {"w": 8042, "v": 0.322}, {"w": 8049, "v": 0.418},
      {"w": 8054, "v": 0.31}, {"w": 8060, "v": 0.509}, {"w": 8066, "v": 0.327}, {"w": 8071, "v": 0.31}, {"w": 8077, "v": 0.316},
      {"w": 8082, "v": 0.327}, {"w": 8090, "v": 0.355}, {"w": 8094, "v": 0.316}, {"w": 8099, "v": 0.409}, {"w": 8106, "v": 0.316},
      {"w": 8119, "v": 0.305}, {"w": 8134, "v": 0.344}, {"w": 8138, "v": 0.327}, {"w": 8144, "v": 0.361}, {"w": 8149, "v": 0.316},
      {"w": 8156, "v": 0.316}, {"w": 8167, "v": 0.305}, {"w": 8178, "v": 0.322}, {"w": 8182, "v": 0.31}, {"w": 8196, "v": 0.307},
      {"w": 8211, "v": 0.316}, {"w": 8218, "v": 0.305}, {"w": 8226, "v": 0.327}, {"w": 8233, "v": 0.314}, {"w": 8248, "v": 0.318},
      {"w": 8263, "v": 0.305}, {"w": 8268, "v": 0.31}, {"w": 8274, "v": 0.668}, {"w": 8277, "v": 0.634}, {"w": 8281, "v": 0.566},
      {"w": 8285, "v": 0.742}, {"w": 8288, "v": 0.418}, {"w": 8292, "v": 0.611}, {"w": 8294, "v": 0.788}, {"w": 8298, "v": 0.407},
      {"w": 8303, "v": 0.339}, {"w": 8307, "v": 0.492}, {"w": 8311, "v": 0.333}, {"w": 8318, "v": 0.322}, {"w": 8325, "v": 0.305},
      {"w": 8332, "v": 0.418}, {"w": 8336, "v": 0.8}, {"w": 8338, "v": 1.2}, {"w": 8342, "v": 1.2}, {"w": 8345, "v": 0.52},
      {"w": 8348, "v": 0.708}, {"w": 8351, "v": 0.361}, {"w": 8357, "v": 0.339}, {"w": 8360, "v": 0.492}, {"w": 8366, "v": 0.339},
      {"w": 8373, "v": 0.322}, {"w": 8378, "v": 0.611}, {"w": 8384, "v": 0.322}, {"w": 8389, "v": 0.322}, {"w": 8392, "v": 0.8},
      {"w": 8394, "v": 1.2}, {"w": 8398, "v": 1.2}, {"w": 8400, "v": 0.6}, {"w": 8402, "v": 0.322}, {"w": 8407, "v": 0.316},
      {"w": 8411, "v": 0.651}, {"w": 8417, "v": 0.316}, {"w": 8423, "v": 0.316}, {"w": 8426, "v": 0.8}, {"w": 8427, "v": 1.2},
      {"w": 8430, "v": 0.7}, {"w": 8432, "v": 0.316}, {"w": 8442, "v": 0.316}, {"w": 8448, "v": 0.611}, {"w": 8454, "v": 0.316},
      {"w": 8458, "v": 0.8}, {"w": 8460, "v": 1.2}, {"w": 8463, "v": 1.2}, {"w": 8465, "v": 0.6}, {"w": 8467, "v": 0.333},
      {"w": 8472, "v": 0.322}, {"w": 8477, "v": 0.316}, {"w": 8483, "v": 0.322}, {"w": 8489, "v": 0.532}, {"w": 8494, "v": 0.322},
      {"w": 8500, "v": 0.691}, {"w": 8505, "v": 0.322}, {"w": 8513, "v": 0.31}, {"w": 8520, "v": 0.316}, {"w": 8528, "v": 0.322},
      {"w": 8535, "v": 0.418}, {"w": 8539, "v": 0.316}, {"w": 8544, "v": 0.515}, {"w": 8550, "v": 0.322}, {"w": 8557, "v": 0.305},
      {"w": 8568, "v": 0.316}, {"w": 8575, "v": 0.333}, {"w": 8581, "v": 0.378}, {"w": 8586, "v": 0.322}, {"w": 8592, "v": 0.407},
      {"w": 8597, "v": 0.322}, {"w": 8608, "v": 0.43}, {"w": 8616, "v": 0.611}, {"w": 8625, "v": 0.674}, {"w": 8632, "v": 0.611},
      {"w": 8639, "v": 0.395}, {"w": 8645, "v": 0.543}, {"w": 8651, "v": 0.714}, {"w": 8656, "v": 0.725}, {"w": 8661, "v": 0.691},
      {"w": 8666, "v": 0.611}, {"w": 8671, "v": 0.52}, {"w": 8676, "v": 0.452}, {"w": 8682, "v": 0.373}, {"w": 8689, "v": 0.355},
      {"w": 8697, "v": 0.361}, {"w": 8704, "v": 0.333}, {"w": 8712, "v": 0.339}, {"w": 8719, "v": 0.322}, {"w": 8726, "v": 0.333},
      {"w": 8734, "v": 0.327}, {"w": 8742, "v": 0.333}, {"w": 8748, "v": 0.35}, {"w": 8753, "v": 0.8}, {"w": 8756, "v": 1.2},
      {"w": 8759, "v": 0.79}, {"w": 8762, "v": 1.2}, {"w": 8767, "v": 1.2}, {"w": 8770, "v": 0.458}, {"w": 8773, "v": 1.2},
      {"w": 8776, "v": 1.2}, {"w": 8778, "v": 0.498}, {"w": 8784, "v": 0.35}, {"w": 8789, "v": 0.333}, {"w": 8796, "v": 0.333},
      {"w": 8804, "v": 0.373}, {"w": 8809, "v": 0.327}, {"w": 8815, "v": 0.418}, {"w": 8819, "v": 1.2}, {"w": 8826, "v": 1.2},
      {"w": 8831, "v": 1.2}, {"w": 8834, "v": 1.2}, {"w": 8838, "v": 0.322}, {"w": 8844, "v": 0.589}, {"w": 8850, "v": 0.373},
      {"w": 8855, "v": 0.384}, {"w": 8862, "v": 0.782}, {"w": 8868, "v": 0.361}, {"w": 8873, "v": 0.384}, {"w": 8878, "v": 1.2},
      {"w": 8881, "v": 1.2}, {"w": 8884, "v": 0.355}, {"w": 8890, "v": 0.498}, {"w": 8894, "v": 0.452}, {"w": 8899, "v": 0.889},
      {"w": 8903, "v": 0.349}, {"w": 8907, "v": 0.373}, {"w": 8910, "v": 1.2}, {"w": 8916, "v": 1.2}, {"w": 8921, "v": 0.401},
      {"w": 8926, "v": 0.389}, {"w": 8932, "v": 0.418}, {"w": 8938, "v": 0.805}, {"w": 8943, "v": 0.378}, {"w": 8949, "v": 0.435},
      {"w": 8951, "v": 1.2}, {"w": 8954, "v": 1.2}, {"w": 8957, "v": 0.384}, {"w": 8962, "v": 0.373}, {"w": 8969, "v": 0.378},
      {"w": 8976, "v": 0.389}, {"w": 8984, "v": 0.765}, {"w": 8988, "v": 0.407}, {"w": 8993, "v": 1.2}, {"w": 8999, "v": 1.2},
      {"w": 9002, "v": 0.361}, {"w": 9010, "v": 0.378}, {"w": 9017, "v": 0.367}, {"w": 9024, "v": 0.367}, {"w": 9032, "v": 0.56},
      {"w": 9037, "v": 0.389}, {"w": 9045, "v": 0.702}, {"w": 9050, "v": 0.373}, {"w": 9057, "v": 0.395}, {"w": 9065, "v": 0.407},
      {"w": 9072, "v": 0.367}, {"w": 9080, "v": 0.361}, {"w": 9087, "v": 0.503}, {"w": 9093, "v": 0.378}, {"w": 9098, "v": 0.56},
      {"w": 9103, "v": 0.373}, {"w": 9113, "v": 0.367}, {"w": 9124, "v": 0.373}, {"w": 9138, "v": 0.378}, {"w": 9146, "v": 0.486},
      {"w": 9152, "v": 0.435}, {"w": 9157, "v": 0.515}, {"w": 9162, "v": 0.389}, {"w": 9175, "v": 0.384}, {"w": 9190, "v": 0.389},
      {"w": 9201, "v": 0.395}, {"w": 9211, "v": 0.481}, {"w": 9214, "v": 0.441}, {"w": 9219, "v": 0.503}, {"w": 9225, "v": 0.401},
      {"w": 9234, "v": 0.395}, {"w": 9241, "v": 0.447}, {"w": 9247, "v": 0.407}, {"w": 9252, "v": 0.435}, {"w": 9260, "v": 0.412},
      {"w": 9267, "v": 0.418}, {"w": 9274, "v": 0.43}, {"w": 9282, "v": 0.515}, {"w": 9287, "v": 0.537}, {"w": 9293, "v": 0.475}
    ],
    "model": [
      {"w": 4752, "v": 0},
      {"w": 9299, "v": 0}
    ]
  },
  "encoding": {
    "x": {
      "field": "w",
      "type": "quantitative",
      "scale": {"domain": [4746, 9300], "nice": false, "zero": false},
      "axis": {
        "title": "Wavelength",
        "values": [5000, 6000, 7000, 8000, 9000],
        "format": "d",
        "grid": false,
        "domain": false,
        "tickSize": 16,
        "tickWidth": 3,
        "tickColor": "black",
        "labelFontSize": 27,
        "labelColor": "black",
        "labelPadding": 8,
        "titleFontSize": 32,
        "titleFontWeight": "normal",
        "titleColor": "black",
        "titleY": 86,
        "titleBaseline": "alphabetic"
      }
    },
    "y": {
      "field": "v",
      "type": "quantitative",
      "scale": {"domain": [-0.8025, 0.93], "nice": false, "zero": false},
      "axis": {
        "title": "10⁻¹⁸ erg s⁻¹ cm⁻² Å⁻¹",
        "values": [-0.8, -0.6, -0.4, -0.2, 0, 0.2, 0.4, 0.6, 0.8],
        "format": ".1f",
        "grid": false,
        "domain": false,
        "tickSize": 14,
        "tickWidth": 3,
        "tickColor": "black",
        "labelFontSize": 34,
        "labelColor": "black",
        "labelPadding": 14,
        "titleFontSize": 48,
        "titleFontWeight": "normal",
        "titleColor": "black",
        "titleAngle": 270,
        "titleX": -154,
        "titleY": 340,
        "titleAlign": "center",
        "titleBaseline": "middle"
      }
    }
  },
  "layer": [
    {
      "data": {"name": "sky"},
      "mark": {"type": "line", "color": "#008000", "strokeWidth": 1.6, "clip": true, "strokeJoin": "round"}
    },
    {
      "data": {"name": "model"},
      "mark": {"type": "line", "color": "#0000ff", "strokeWidth": 5.5, "clip": true}
    },
    {
      "data": {"name": "flux"},
      "mark": {"type": "line", "color": "#000000", "strokeWidth": 4.5, "clip": true, "strokeJoin": "round"}
    }
  ],
  "config": {
    "font": "DejaVu Sans",
    "view": {"stroke": "black", "strokeWidth": 3},
    "title": {"font": "DejaVu Sans"},
    "axis": {"labelFont": "DejaVu Sans", "titleFont": "DejaVu Sans"}
  }
}
